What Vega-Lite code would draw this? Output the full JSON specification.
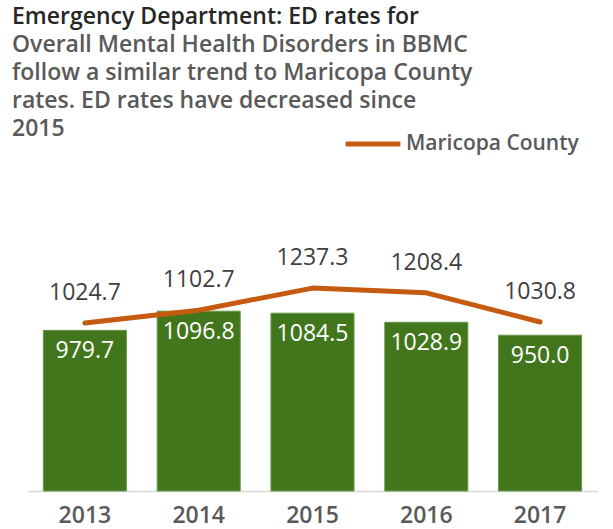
{
  "$schema": "https://vega.github.io/schema/vega-lite/v6.json",
  "width": 569,
  "height": 346,
  "autosize": {"type": "none"},
  "padding": {"left": 28, "top": 145, "right": 16, "bottom": 38},
  "background": "white",
  "title": {
    "text": "Emergency Department: ED rates for",
    "subtitle": ["Overall Mental Health Disorders in BBMC", "follow a similar trend to Maricopa County", "rates. ED rates have decreased since", "2015"],
    "anchor": "start",
    "dx": -16,
    "dy": 31,
    "font": "Open Sans",
    "fontSize": 23,
    "fontWeight": 600,
    "color": "#262626",
    "subtitleFont": "Open Sans",
    "subtitleFontSize": 23,
    "subtitleFontWeight": 600,
    "subtitleColor": "#595959",
    "subtitleLineHeight": 28,
    "subtitlePadding": 5,
    "offset": 4
  },
  "data": {
    "values": [
      {"year": "2013", "bbmc": 979.7, "maricopa": 1024.7},
      {"year": "2014", "bbmc": 1096.8, "maricopa": 1102.7},
      {"year": "2015", "bbmc": 1084.5, "maricopa": 1237.3},
      {"year": "2016", "bbmc": 1028.9, "maricopa": 1208.4},
      {"year": "2017", "bbmc": 950.0, "maricopa": 1030.8}
    ]
  },
  "encoding": {
    "x": {
      "field": "year",
      "type": "nominal",
      "scale": {"paddingInner": 0.27, "paddingOuter": 0.135},
      "axis": {
        "title": null,
        "labelAngle": 0,
        "labelFont": "Open Sans",
        "labelFontSize": 23,
        "labelFontWeight": 600,
        "labelColor": "#595959",
        "labelPadding": 13,
        "ticks": false,
        "domainColor": "#d9d9d9",
        "domainWidth": 1.5,
        "grid": false
      }
    }
  },
  "layer": [
    {
      "mark": {"type": "bar", "color": "#42761d", "stroke": "#6a9a4a", "strokeWidth": 1},
      "encoding": {
        "y": {"field": "bbmc", "type": "quantitative", "scale": {"domain": [0, 2110], "nice": false}, "axis": null}
      }
    },
    {
      "mark": {"type": "text", "color": "white", "font": "Open Sans", "fontSize": 23, "fontWeight": 500, "baseline": "middle", "dy": 21},
      "encoding": {
        "y": {"field": "bbmc", "type": "quantitative"},
        "text": {"field": "bbmc", "type": "quantitative", "format": ".1f"}
      }
    },
    {
      "mark": {"type": "line", "strokeWidth": 5, "strokeCap": "round", "strokeJoin": "round"},
      "encoding": {
        "y": {"field": "maricopa", "type": "quantitative"},
        "color": {
          "datum": "Maricopa County",
          "scale": {"range": ["#c55a11"]},
          "legend": {
            "title": null,
            "orient": "none",
            "legendX": 315,
            "legendY": -31,
            "symbolType": "stroke",
            "symbolSize": 3000,
            "symbolStrokeWidth": 5,
            "labelFont": "Open Sans",
            "labelFontSize": 21,
            "labelFontWeight": 600,
            "labelColor": "#595959",
            "labelOffset": 3,
            "labelLimit": 300
          }
        }
      }
    },
    {
      "mark": {"type": "text", "color": "#404040", "font": "Open Sans", "fontSize": 23, "fontWeight": 500, "baseline": "middle", "dy": -30},
      "encoding": {
        "y": {"field": "maricopa", "type": "quantitative"},
        "text": {"field": "maricopa", "type": "quantitative", "format": ".1f"}
      }
    }
  ],
  "config": {"view": {"stroke": null}}
}
